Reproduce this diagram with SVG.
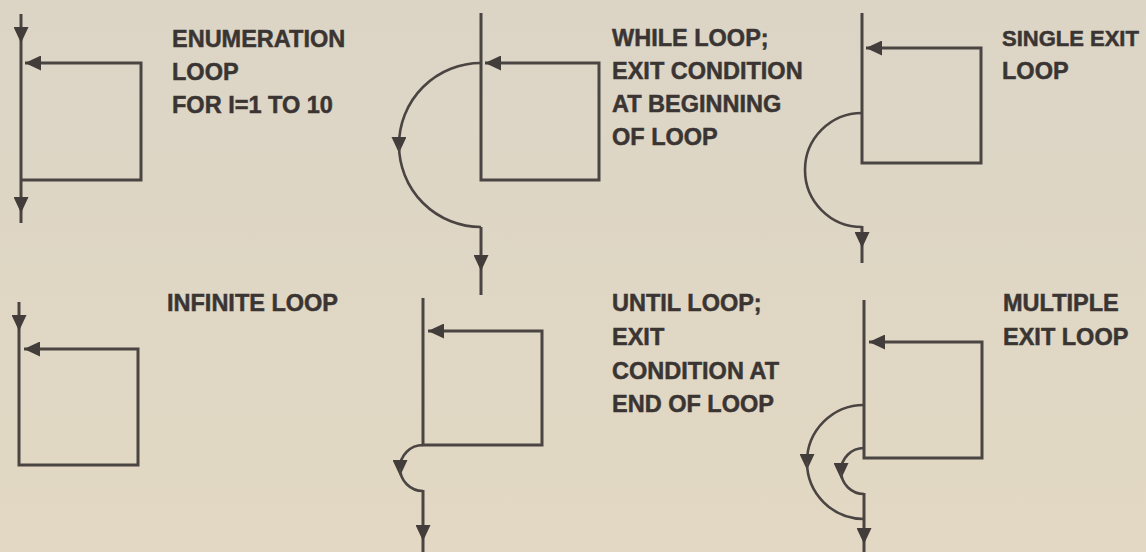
<svg xmlns="http://www.w3.org/2000/svg" width="1146" height="552" viewBox="0 0 1146 552">
<defs>
<linearGradient id="paper" x1="0" y1="0" x2="0" y2="1">
<stop offset="0" stop-color="#dcd5c6"/>
<stop offset="1" stop-color="#e2d8c3"/>
</linearGradient>
<marker id="ah" viewBox="0 0 16 15" markerWidth="16" markerHeight="15" markerUnits="userSpaceOnUse" refX="16" refY="7.5" orient="auto">
<path d="M0,0 L16,7.5 L0,15 z" fill="#423c3a"/>
</marker>
<marker id="ahc" viewBox="0 0 16 15" markerWidth="16" markerHeight="15" markerUnits="userSpaceOnUse" refX="8" refY="7.5" orient="auto">
<path d="M0,0 L16,7.5 L0,15 z" fill="#423c3a"/>
</marker>
</defs>
<style>
.ln{fill:none;stroke:#4a4442;stroke-width:3;stroke-linejoin:miter}
.arc{fill:none;stroke:#4a4442;stroke-width:2.6}
.lbl{font-family:"Liberation Sans",Arial,sans-serif;font-weight:bold;font-size:23.5px;fill:#3a3533;stroke:#3a3533;stroke-width:0.5}
.sm{font-size:22px}
</style>
<rect width="1146" height="552" fill="url(#paper)"/>

<g id="connectors">
<!-- enumeration loop -->
<path class="ln" d="M21,14 V43" marker-end="url(#ah)"/>
<path class="ln" d="M21,43 V213" marker-end="url(#ah)"/>
<path class="ln" d="M21,213 V223"/>
<path class="ln" d="M21,180 H141 V63 H25" marker-end="url(#ah)"/>

<!-- while loop -->
<path class="ln" d="M481,13 V180 H599 V63 H485" marker-end="url(#ah)"/>
<path class="arc" d="M481,63 A82,82 0 0 0 399,145" marker-end="url(#ahc)"/>
<path class="arc" d="M399,145 A82,82 0 0 0 481,227"/>
<path class="ln" d="M481,227 V271" marker-end="url(#ah)"/>
<path class="ln" d="M481,271 V295"/>

<!-- single exit loop -->
<path class="ln" d="M862,13 V163 H981 V48 H866" marker-end="url(#ah)"/>
<path class="arc" d="M862,113 A57,57 0 0 0 805,170 A57,57 0 0 0 862,227"/>
<path class="ln" d="M862,226 V248" marker-end="url(#ah)"/>
<path class="ln" d="M862,248 V263"/>

<!-- infinite loop -->
<path class="ln" d="M19,302 V331" marker-end="url(#ah)"/>
<path class="ln" d="M19,331 V465 H138 V349 H24" marker-end="url(#ah)"/>

<!-- until loop -->
<path class="ln" d="M423,298 V445 H542 V331 H428" marker-end="url(#ah)"/>
<path class="arc" d="M423,445 A23,23 0 0 0 400,468" marker-end="url(#ahc)"/>
<path class="arc" d="M400,468 A23,23 0 0 0 423,491"/>
<path class="ln" d="M423,490 V541" marker-end="url(#ah)"/>
<path class="ln" d="M423,541 V552"/>

<!-- multiple exit loop -->
<path class="ln" d="M864,300 V458 H982 V342 H869" marker-end="url(#ah)"/>
<path class="arc" d="M864,405 A57,57 0 0 0 807,462" marker-end="url(#ahc)"/>
<path class="arc" d="M807,462 A57,57 0 0 0 864,519"/>
<path class="arc" d="M864,448 A23,23 0 0 0 841,471" marker-end="url(#ahc)"/>
<path class="arc" d="M841,471 A23,23 0 0 0 864,494"/>
<path class="ln" d="M864,493 V544" marker-end="url(#ah)"/>
<path class="ln" d="M864,544 V552"/>
</g>

<g id="enumeration-loop">
<text class="lbl" x="172" y="47">ENUMERATION</text>
<text class="lbl" x="172" y="80">LOOP</text>
<text class="lbl" x="172" y="113">FOR I=1 TO 10</text>
</g>
<g id="while-loop">
<text class="lbl" x="612" y="46">WHILE LOOP;</text>
<text class="lbl" x="612" y="79">EXIT CONDITION</text>
<text class="lbl" x="612" y="112">AT BEGINNING</text>
<text class="lbl" x="612" y="145">OF LOOP</text>
</g>
<g id="single-exit-loop">
<text class="lbl sm" x="1002" y="46">SINGLE EXIT</text>
<text class="lbl" x="1002" y="79">LOOP</text>
</g>
<g id="infinite-loop">
<text class="lbl" x="167" y="311">INFINITE LOOP</text>
</g>
<g id="until-loop">
<text class="lbl" x="612" y="311">UNTIL LOOP;</text>
<text class="lbl" x="612" y="345">EXIT</text>
<text class="lbl" x="612" y="379">CONDITION AT</text>
<text class="lbl" x="612" y="412">END OF LOOP</text>
</g>
<g id="multiple-exit-loop">
<text class="lbl" x="1003" y="311">MULTIPLE</text>
<text class="lbl" x="1003" y="345">EXIT LOOP</text>
</g>
</svg>
